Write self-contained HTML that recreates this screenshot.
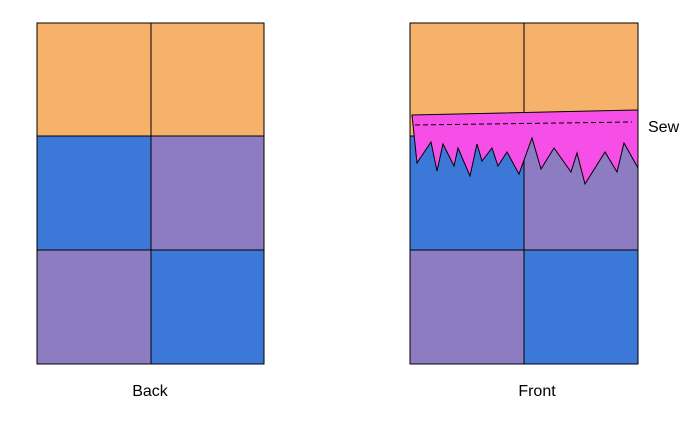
<!DOCTYPE html>
<html><head><style>html,body{margin:0;padding:0;background:#fff}svg{display:block}</style></head>
<body>
<svg width="700" height="422" viewBox="0 0 700 422" xmlns="http://www.w3.org/2000/svg" font-family="Liberation Sans, Arial, sans-serif">
<g stroke="#000" stroke-width="1">
<rect x="37" y="23" width="114" height="113" fill="#f6b26b"/>
<rect x="151" y="23" width="113" height="113" fill="#f6b26b"/>
<rect x="37" y="136" width="114" height="114" fill="#3c78d8"/>
<rect x="151" y="136" width="113" height="114" fill="#8e7cc3"/>
<rect x="37" y="250" width="114" height="114" fill="#8e7cc3"/>
<rect x="151" y="250" width="113" height="114" fill="#3c78d8"/>

<rect x="410" y="23" width="114" height="113" fill="#f6b26b"/>
<rect x="524" y="23" width="114" height="113" fill="#f6b26b"/>
<rect x="410" y="136" width="114" height="114" fill="#3c78d8"/>
<rect x="524" y="136" width="114" height="114" fill="#8e7cc3"/>
<rect x="410" y="250" width="114" height="114" fill="#8e7cc3"/>
<rect x="524" y="250" width="114" height="114" fill="#3c78d8"/>

<polygon fill="#f54fe8" points="412,115 638,110 638,168 624,143 617,172 605,152 585,184 577,153 571,172 554,148 541,169 532,138 519,174 507,152 498,166 492,148 482,161 477,144 470,176 458,148 454,166 443,144 437,171 431,142 417,163"/>
<line x1="415" y1="125" x2="632" y2="122" stroke-dasharray="5,3"/>
</g>
<text x="648" y="132" font-size="16" fill="#000">Sew</text>
<text x="150" y="396" font-size="16" text-anchor="middle" fill="#000">Back</text>
<text x="537" y="396" font-size="16" text-anchor="middle" fill="#000">Front</text>
</svg>
</body></html>
